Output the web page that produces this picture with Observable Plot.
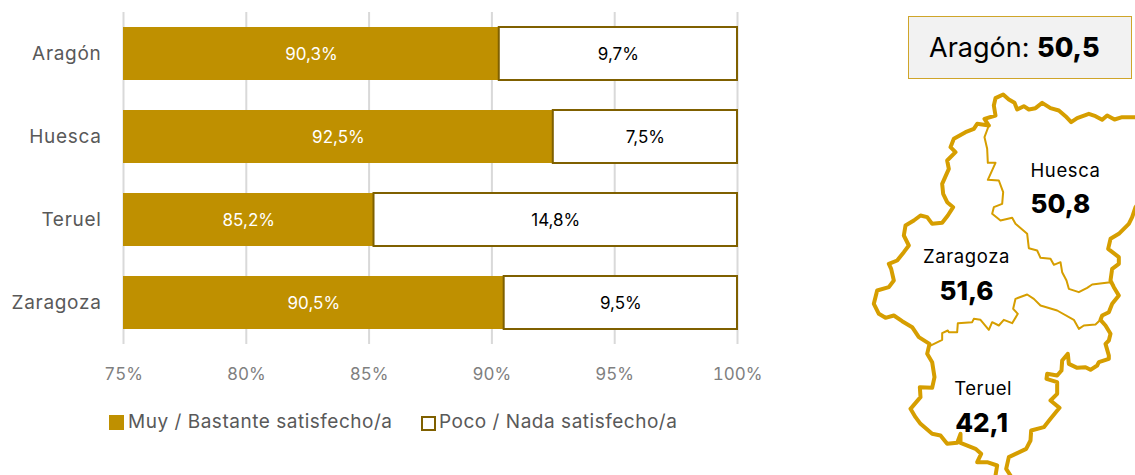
<!DOCTYPE html>
<html lang="es">
<head>
<meta charset="utf-8">
<script src="https://cdn.jsdelivr.net/npm/d3@7"></script>
<script src="https://cdn.jsdelivr.net/npm/@observablehq/plot@0.6"></script>
<style>
  html, body { margin: 0; background: #fff; }
  #page { position: relative; width: 1135px; height: 475px; overflow: hidden; font-family: Inter, sans-serif; }
  #page svg { display: block; font-family: Inter, sans-serif; }
  #bars g[aria-label="y-axis tick label"] { letter-spacing: 0.7px; }
  #map g[font-size="18.5"] { letter-spacing: 0.6px; }
  #bars, #map { position: absolute; top: 0; }
  #bars { left: 0; }
  #map { left: 860px; }
  #headline { position: absolute; left: 908px; top: 16px; width: 222px; height: 61px; box-sizing: content-box;
    background: #f2f2f2; border: 1px solid #cfa52a; color: #000; font-size: 27px; line-height: 61px; padding-left: 0; }
  #headline span { position: absolute; left: 20px; white-space: nowrap; }
  #headline b { font-weight: 800; }
  .key { position: absolute; top: 411px; font-size: 19px; line-height: 22px; color: #595959; white-space: nowrap; letter-spacing: 0.52px; }
  .swatch { position: absolute; box-sizing: border-box; }
</style>
</head>
<body>
<div id="page">
  <div id="bars"></div>
  <div id="map"></div>
</div>
<script>
// Satisfaction by territory (percent of respondents)
const territories = ["Aragón", "Huesca", "Teruel", "Zaragoza"];
const satisfied = [90.3, 92.5, 85.2, 90.5];
const unsatisfied = [9.7, 7.5, 14.8, 9.5];
const legendLabels = ["Muy / Bastante satisfecho/a", "Poco / Nada satisfecho/a"];
const xTicks = [75, 80, 85, 90, 95, 100];

// Overall score and the score of each province
const regionName = "Aragón";
const regionScore = "50,5";
const provinces = ["Huesca", "Zaragoza", "Teruel"];
const provinceScores = ["50,8", "51,6", "42,1"];
// Label anchors in map units
const provinceNameU = [615, 318, 368];
const provinceScoreU = [600, 318, 363];
const provinceNameV = [257, 516, 912];
const provinceScoreV = [358, 620, 1015];

// Province outlines in map units (three units per screen pixel)
const outerBorder = [
  [385,120],[372,100],[405,90],[400,60],[405,38],[428,27],[445,42],[462,52],[470,72],[490,62],[505,72],[525,68],
  [545,52],[570,68],[595,75],[615,92],[632,110],[650,98],[685,85],[705,92],[725,103],[740,90],[762,102],[785,95],
  [825,95],[860,110],[870,250],[845,340],[825,365],[815,395],[805,415],[775,445],[750,460],[743,490],[775,515],
  [775,535],[755,550],[750,585],[760,605],[775,630],[755,655],[745,680],[725,690],[720,703],[735,720],[750,745],
  [745,765],[735,775],[745,810],[745,820],[715,830],[710,840],[690,853],[675,845],[650,847],[625,835],[622,805],
  [605,825],[603,855],[590,870],[560,865],[558,880],[590,890],[590,925],[570,945],[597,967],[570,1000],[550,1025],
  [512,1035],[510,1065],[497,1090],[445,1115],[437,1150],[450,1170],[440,1185],[410,1185],[405,1170],[410,1140],
  [380,1130],[350,1130],[362,1105],[345,1090],[300,1072],[300,1045],[290,1072],[260,1075],[240,1050],[215,1045],
  [180,1015],[165,995],[150,970],[180,935],[178,905],[215,907],[222,875],[215,830],[200,805],[207,775],[175,755],
  [155,725],[125,707],[100,690],[75,697],[55,685],[40,655],[50,615],[85,605],[100,585],[92,550],[85,535],[110,525],
  [130,500],[145,480],[130,450],[135,420],[160,405],[180,390],[200,395],[215,415],[245,412],[262,390],[278,365],
  [260,350],[248,325],[245,295],[265,250],[260,225],[285,200],[270,185],[280,160],[315,140],[340,130],[350,115],[385,120]
];
const huescaZaragozaBorder = [
  [385,120],[372,155],[380,190],[382,232],[405,232],[382,283],[415,285],[428,320],[425,355],[400,365],[395,385],
  [420,405],[455,397],[465,415],[500,445],[505,488],[530,495],[540,517],[570,520],[580,538],[600,530],[605,560],
  [618,585],[625,610],[655,620],[680,607],[695,597],[725,593],[750,590],[760,600]
];
const teruelZaragozaBorder = [
  [207,782],[245,763],[245,743],[262,735],[265,740],[290,740],[292,713],[335,710],[340,700],[360,703],[385,733],
  [395,710],[415,720],[430,703],[455,713],[472,685],[458,670],[465,640],[500,627],[520,640],[540,660],[590,675],
  [640,703],[655,730],[670,720],[705,717],[720,703]
];

const page = document.getElementById("page");
const ochre = "#bf9000";
const darkOchre = "#7f6000";
const mapStroke = "#d69e00";

const comma = (v) => v.toFixed(1).replace(".", ",") + "%";
const rows = territories.map((t, i) => ({t, sat: satisfied[i], uns: unsatisfied[i]}));

document.getElementById("bars").append(Plot.plot({
  width: 860,
  height: 400,
  marginLeft: 123,
  marginRight: 123,
  marginTop: 12,
  marginBottom: 56,
  style: {background: "transparent"},
  x: {domain: [75, 100], ticks: xTicks},
  y: {domain: territories, paddingInner: 0.361, paddingOuter: 0.18},
  marks: [
    Plot.gridX(xTicks, {stroke: "#d9d9d9", strokeWidth: 2, strokeOpacity: 1}),
    Plot.barX(rows, {y: "t", x1: () => 75, x2: "sat", fill: ochre}),
    Plot.barX(rows, {y: "t", x1: (d) => 100 - d.uns, x2: () => 100, fill: "#fff", stroke: darkOchre, strokeWidth: 2}),
    Plot.text(rows, {y: "t", x: (d) => (75 + d.sat) / 2, text: (d) => comma(d.sat), fill: "#fff", fontSize: 17, dy: 1}),
    Plot.text(rows, {y: "t", x: (d) => 100 - d.uns / 2, text: (d) => comma(d.uns), fill: "#000", fontSize: 17, dy: 1}),
    Plot.axisY({tickSize: 0, tickPadding: 22, fontSize: 19, color: "#595959", label: null}),
    Plot.axisX(xTicks, {tickSize: 0, tickPadding: 23, fontSize: 17, color: "#7f7f7f", label: null, tickFormat: (d) => d + "%"})
  ]
}));

const scoreRows = provinces.map((p, i) => ({
  p, score: provinceScores[i], nameU: provinceNameU[i], scoreU: provinceScoreU[i],
  nameV: provinceNameV[i], scoreV: provinceScoreV[i]
}));
const border = (points, strokeWidth) => Plot.line(points, {
  x: (d) => d[0], y: (d) => d[1], stroke: mapStroke, strokeWidth, strokeLinejoin: "round", strokeLinecap: "round"
});

document.getElementById("map").append(Plot.plot({
  width: 275,
  height: 475,
  margin: 0,
  style: {background: "transparent"},
  x: {axis: null, domain: [0, 825], range: [0, 275]},
  y: {axis: null, domain: [-255, 1170], range: [0, 475]},
  marks: [
    border(huescaZaragozaBorder, 2),
    border(teruelZaragozaBorder, 2),
    border(outerBorder, 4),
    Plot.text(scoreRows, {x: "nameU", y: "nameV", text: "p", fontSize: 18.5, fill: "#000"}),
    Plot.text(scoreRows, {x: "scoreU", y: "scoreV", text: "score", fontSize: 26, fontWeight: 800, fill: "#000"})
  ]
}));

// Headline box with the overall score
const headline = document.createElement("div");
headline.id = "headline";
const headlineText = document.createElement("span");
headlineText.append(regionName + ": ");
const headlineValue = document.createElement("b");
headlineValue.textContent = regionScore;
headlineText.append(headlineValue);
headline.append(headlineText);
page.append(headline);

// Legend below the bars
[[128, 109, 415, 15, ochre, ochre], [439, 421, 416, 15, "#fff", darkOchre]].forEach(([left, sx, sy, size, fill, line], i) => {
  const swatch = document.createElement("div");
  swatch.className = "swatch";
  swatch.style.cssText = `left:${sx}px;top:${sy}px;width:${size}px;height:${size}px;background:${fill};border:2px solid ${line}`;
  page.append(swatch);
  const key = document.createElement("div");
  key.className = "key";
  key.style.left = left + "px";
  key.textContent = legendLabels[i];
  page.append(key);
});
</script>
</body>
</html>
